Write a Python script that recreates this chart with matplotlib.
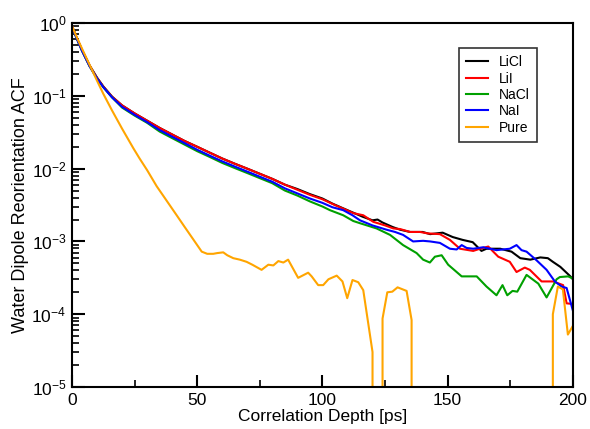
import matplotlib
matplotlib.use("Agg")
import matplotlib.pyplot as plt
from matplotlib.ticker import LogLocator, MultipleLocator, NullFormatter

plt.rcParams['font.family'] = ['Liberation Sans', 'DejaVu Sans']
plt.rcParams['mathtext.fontset'] = 'custom'
plt.rcParams['mathtext.rm'] = 'Liberation Sans'
plt.rcParams['mathtext.it'] = 'Liberation Sans:italic'

# ---------------- data ----------------
t_early = [0, 2, 4, 7, 10, 12.5, 16, 20, 25, 30, 35, 40, 45, 50, 55, 60, 65, 70, 75, 80, 85, 90, 95, 100]

licl_early = [0.912, 0.617, 0.427, 0.263, 0.178, 0.135, 0.0977, 0.0741, 0.0575, 0.0457, 0.0363, 0.0295,
              0.0240, 0.0200, 0.0166, 0.0138, 0.0117, 0.0100, 0.00851, 0.00724, 0.00603, 0.00525, 0.00447, 0.00389]
licl_t_tail = [104, 108, 112, 116, 120, 122, 124, 128, 131, 135, 140, 143, 148, 152, 156, 160, 163.5, 165.5,
               171, 175.5, 179, 183, 187, 190, 192, 195, 199, 200]
licl_tail = [0.00331, 0.00288, 0.00251, 0.00219, 0.00195, 0.00200, 0.00182, 0.00158, 0.00145, 0.00135, 0.00135,
             0.00126, 0.00132, 0.00115, 0.00105, 0.000977, 0.000741, 0.000794, 0.000794, 0.000724, 0.000589,
             0.000562, 0.000603, 0.000589, 0.000525, 0.000447, 0.000331, 0.000302]

lii_early = [0.912, 0.617, 0.427, 0.263, 0.178, 0.135, 0.0977, 0.0741, 0.0575, 0.0457, 0.0363, 0.0295,
             0.0240, 0.0200, 0.0166, 0.0138, 0.0117, 0.0100, 0.00851, 0.00724, 0.00603, 0.00513, 0.00437, 0.00380]
lii_t_tail = [105, 109.7, 112.3, 116.3, 120.3, 125, 128.3, 131, 135, 139, 142, 146.9, 150.9, 154.9, 160.2,
              162.9, 166.2, 170.2, 174.8, 177.5, 180.8, 182.8, 187.5, 192.1, 196.1, 197.5, 200]
lii_tail = [0.00316, 0.00269, 0.00245, 0.00229, 0.00186, 0.00166, 0.00151, 0.00148, 0.00135, 0.00135, 0.00129,
            0.00126, 0.00105, 0.000794, 0.000741, 0.000794, 0.000851, 0.000617, 0.000525, 0.000380, 0.000437,
            0.000407, 0.000282, 0.000282, 0.000251, 0.000141, 0.000138]

nacl_early = [0.891, 0.603, 0.417, 0.257, 0.174, 0.132, 0.0955, 0.0692, 0.0537, 0.0427, 0.0324, 0.0263,
              0.0214, 0.0174, 0.0145, 0.0120, 0.0102, 0.00871, 0.00741, 0.00631, 0.00501, 0.00427, 0.00355, 0.00302]
nacl_t_tail = [103, 108.3, 112.3, 115, 121.6, 127, 132.2, 137.6, 140.2, 142.9, 144.9, 147.6, 150.2, 155.6,
               161.6, 165.5, 169.5, 171.9, 173.8, 175.9, 177.8, 181.5, 186.2, 189.5, 193.5, 194.8, 198.1, 200]
nacl_tail = [0.00269, 0.00229, 0.00191, 0.00178, 0.00151, 0.00123, 0.000891, 0.000692, 0.000562, 0.000513,
             0.000617, 0.000646, 0.000479, 0.000331, 0.000331, 0.000240, 0.000182, 0.000251, 0.000182, 0.000209,
             0.000204, 0.000347, 0.000263, 0.000170, 0.000302, 0.000324, 0.000331, 0.000309]

nai_early = [0.891, 0.603, 0.417, 0.257, 0.174, 0.132, 0.0955, 0.0708, 0.0550, 0.0437, 0.0339, 0.0275,
             0.0224, 0.0182, 0.0151, 0.0126, 0.0107, 0.00912, 0.00776, 0.00661, 0.00537, 0.00457, 0.00389, 0.00339]
nai_t_tail = [104, 108.3, 112, 115, 120, 125.6, 129, 132.2, 136.2, 140.2, 143, 146.9, 150.9, 153.6, 155.6,
              157.6, 160.2, 164.2, 169.5, 174.8, 177.5, 179.5, 181.5, 185.5, 189.5, 192.8, 195.5, 197.5, 200]
nai_tail = [0.00295, 0.00269, 0.00229, 0.00195, 0.00166, 0.00145, 0.00135, 0.00123, 0.00100, 0.00102, 0.00100,
            0.000955, 0.000794, 0.000776, 0.000891, 0.000813, 0.000794, 0.000832, 0.000759, 0.000794, 0.000891,
            0.000759, 0.000724, 0.000550, 0.000407, 0.000282, 0.000240, 0.000229, 0.000112]

pure_t = [0, 2, 4, 7, 10, 12.5, 16, 20, 24.5, 27, 30, 33.8, 37, 41.8, 45, 48.4, 51.8, 54, 56.4, 58, 60.4, 62,
          64.4, 67, 69.7, 72, 75.7, 78.4, 80.4, 82.4, 84.4, 86.3, 90.3, 94.3, 95.7, 98.3, 100.3, 102.4, 105.7,
          108, 109.9, 112, 114.3, 116.3, 120, 121, 123, 124, 125.9, 127.9, 130, 133.6, 135.6, 137, 160, 190.5,
          192, 194, 196, 198, 200]
pure = [0.912, 0.631, 0.447, 0.269, 0.162, 0.107, 0.0631, 0.0355, 0.0191, 0.0138, 0.00955, 0.00575, 0.00398,
        0.00229, 0.00158, 0.00107, 0.000724, 0.000676, 0.000676, 0.000692, 0.000708, 0.000646, 0.000589,
        0.000562, 0.000525, 0.000479, 0.000407, 0.000479, 0.000468, 0.000537, 0.000513, 0.000562, 0.000316,
        0.000372, 0.000331, 0.000251, 0.000251, 0.000302, 0.000339, 0.000282, 0.000166, 0.000295, 0.000275,
        0.000214, 0.0000302, -0.0001, -0.0001, 0.0000871, 0.000200, 0.000204, 0.000234, 0.000209, 0.0000832,
        -0.0001, -0.0001, -0.0001, 0.000100, 0.000240, 0.000219, 0.0000525, 0.0000692]

series = [
    ("LiCl", t_early + licl_t_tail, licl_early + licl_tail, "black"),
    ("LiI", t_early + lii_t_tail, lii_early + lii_tail, "#ff0000"),
    ("NaCl", t_early + nacl_t_tail, nacl_early + nacl_tail, "#00a000"),
    ("NaI", t_early + nai_t_tail, nai_early + nai_tail, "#0000ff"),
    ("Pure", pure_t, pure, "#ffa500"),
]

# ---------------- plot ----------------
fig = plt.figure(figsize=(5.9, 4.29), dpi=100)
ax = fig.add_axes([0.122, 0.098, 0.849, 0.848])

for name, t, v, c in series:
    ax.plot(t, v, color=c, lw=1.5, label=name)

ax.set_yscale('log', nonpositive='clip')
ax.set_xlim(0, 200)
ax.set_ylim(1e-5, 1)

ax.xaxis.set_major_locator(MultipleLocator(50))
ax.xaxis.set_minor_locator(MultipleLocator(25))
ax.yaxis.set_major_locator(LogLocator(base=10, numticks=10))
ax.yaxis.set_minor_locator(LogLocator(base=10, subs=range(2, 10), numticks=20))
ax.yaxis.set_minor_formatter(NullFormatter())

ax.tick_params(which='major', direction='in', length=9, width=1.5, labelsize=12.5,
               top=False, right=False, pad=4)
ax.tick_params(which='minor', direction='in', length=5, width=1.2, top=False, right=False)
for s in ax.spines.values():
    s.set_linewidth(1.5)

ax.set_xlabel("Correlation Depth [ps]", fontsize=12.5, labelpad=1)
ax.set_ylabel("Water Dipole Reorientation ACF", fontsize=13, labelpad=2)

leg = ax.legend(loc='upper right', bbox_to_anchor=(0.928, 0.931), borderaxespad=0,
                fontsize=10, frameon=True, fancybox=False, handlelength=1.6,
                labelspacing=0.17, borderpad=0.5, handletextpad=0.8)
leg.get_frame().set_edgecolor('black')
leg.get_frame().set_linewidth(1.2)

fig.savefig("out.png", dpi=100)
